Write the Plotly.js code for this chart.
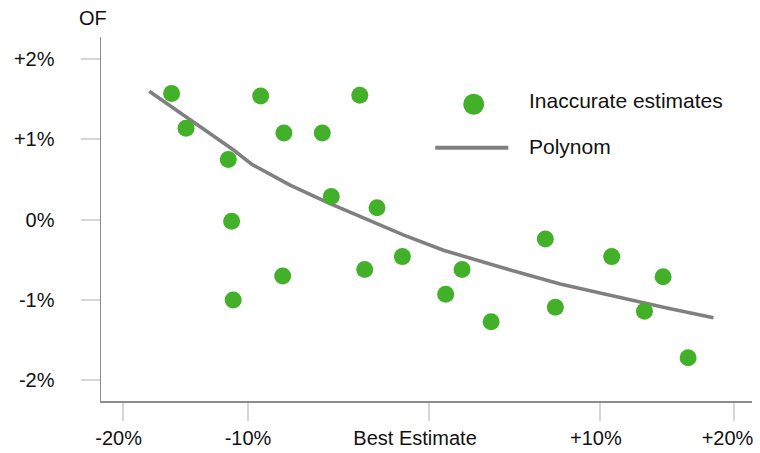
<!DOCTYPE html>
<html>
<head>
<meta charset="utf-8">
<script src="https://cdn.plot.ly/plotly-3.0.1.min.js"></script>
<style>
  html, body { margin: 0; padding: 0; background: #ffffff; }
  #chart { width: 760px; height: 453px; }
</style>
</head>
<body>
<div id="chart"></div>
<script>
// Deviation from the best estimate (x) against OF deviation (y), both in percent
const estimateX = [-14.64, -13.82, -9.58, -8.26, -6.08, -3.95, -11.42, -5.57, -2.97, -11.23,
                   -8.33, -3.67, -1.53, -11.14, 1.86, 0.93, 3.51, 6.59, 7.16, 10.36,
                   13.28, 12.22, 14.70];
const estimateY = [1.57, 1.14, 1.54, 1.08, 1.08, 1.55, 0.75, 0.29, 0.15, -0.02,
                   -0.70, -0.62, -0.46, -1.00, -0.62, -0.93, -1.27, -0.24, -1.09, -0.46,
                   -0.71, -1.14, -1.72];

// Fitted polynomial trend, sampled along x
const polyX = [-15.91, -13.60, -11.14, -10.09, -7.91, -5.64, -3.56, -1.48, 0.80, 4.02, 7.43, 10.65, 13.49, 16.14];
const polyY = [1.60, 1.24, 0.87, 0.69, 0.43, 0.20, 0.00, -0.19, -0.38, -0.59, -0.80, -0.96, -1.10, -1.22];

// Axis ticks
const xTickVals = [-17.40, -10.30, 0, 9.70, 17.31];
const xLabelVals = [-17.65, -10.30, -0.81, 9.46, 16.94];
const xTickText = ['-20%', '-10%', 'Best Estimate', '+10%', '+20%'];
const yTickVals = [2, 1, 0, -1, -2];
const yTickText = ['+2%', '+1%', '0%', '-1%', '-2%'];

const seriesNames = ['Inaccurate estimates', 'Polynom'];

const GREEN = '#43b02a';
const GREY_LINE = '#808080';
const FONT = "'Liberation Sans', Arial, Helvetica, sans-serif";
const X_RANGE = [-18.65, 18.33];
const Y_RANGE = [-2.258, 2.275];

const traces = [
  {
    type: 'scatter', mode: 'lines', name: seriesNames[1],
    x: polyX, y: polyY,
    line: { color: GREY_LINE, width: 3.6 },
    hoverinfo: 'skip', showlegend: false
  },
  {
    type: 'scatter', mode: 'markers', name: seriesNames[0],
    x: estimateX, y: estimateY,
    marker: { color: GREEN, size: 17, line: { width: 0 } },
    showlegend: false
  }
];

const layout = {
  width: 760, height: 453,
  margin: { l: 101, r: 8, t: 37, b: 52, pad: 0 },
  paper_bgcolor: '#ffffff', plot_bgcolor: '#ffffff',
  font: { family: FONT, size: 20, color: '#111111' },
  showlegend: false,
  xaxis: {
    range: X_RANGE, fixedrange: true,
    showgrid: false, zeroline: false,
    showline: true, linecolor: '#8c8c8c', linewidth: 1.5,
    tickmode: 'array', tickvals: xTickVals, ticktext: xTickText.map(() => ''),
    ticks: 'outside', ticklen: 18, tickwidth: 2, tickcolor: '#d6d6d6',
    showticklabels: false
  },
  xaxis2: {
    overlaying: 'x', anchor: 'y', side: 'bottom',
    range: X_RANGE, fixedrange: true,
    showgrid: false, zeroline: false, showline: false,
    tickmode: 'array', tickvals: xLabelVals, ticktext: xTickText,
    ticks: '', ticklabelstandoff: 23,
    tickfont: { family: FONT, size: 20, color: '#111111' }
  },
  yaxis: {
    range: Y_RANGE, fixedrange: true,
    showgrid: false, zeroline: false,
    showline: true, linecolor: '#8c8c8c', linewidth: 1.5,
    tickmode: 'array', tickvals: yTickVals, ticktext: yTickText,
    ticks: 'outside', ticklen: 19, tickwidth: 2, tickcolor: '#d6d6d6',
    ticklabelstandoff: 22,
    tickfont: { family: FONT, size: 20, color: '#111111' }
  },
  shapes: [
    // legend swatches
    { type: 'circle', xref: 'paper', yref: 'paper',
      x0: 0.5564, x1: 0.5886, y0: 0.7863, y1: 0.8440,
      fillcolor: GREEN, line: { width: 0 } },
    { type: 'line', xref: 'paper', yref: 'paper',
      x0: 0.5135, x1: 0.6257, y0: 0.6959, y1: 0.6959,
      line: { color: GREY_LINE, width: 4 } }
  ],
  annotations: [
    { text: 'OF', xref: 'paper', yref: 'paper', x: -0.0118, y: 1.052,
      xanchor: 'center', yanchor: 'middle', showarrow: false,
      font: { family: FONT, size: 20, color: '#111111' } },
    { text: seriesNames[0], xref: 'paper', yref: 'paper', x: 0.6548, y: 0.8269,
      xanchor: 'left', yanchor: 'middle', showarrow: false,
      font: { family: FONT, size: 21, color: '#111111' } },
    { text: seriesNames[1], xref: 'paper', yref: 'paper', x: 0.6548, y: 0.7005,
      xanchor: 'left', yanchor: 'middle', showarrow: false,
      font: { family: FONT, size: 21, color: '#111111' } }
  ]
};

// invisible trace to activate the label axis
traces.push({ type: 'scatter', x: [0], y: [0], xaxis: 'x2', yaxis: 'y',
  mode: 'markers', marker: { opacity: 0 }, hoverinfo: 'skip', showlegend: false });

Plotly.newPlot('chart', traces, layout, { displayModeBar: false, staticPlot: true });
</script>
</body>
</html>
